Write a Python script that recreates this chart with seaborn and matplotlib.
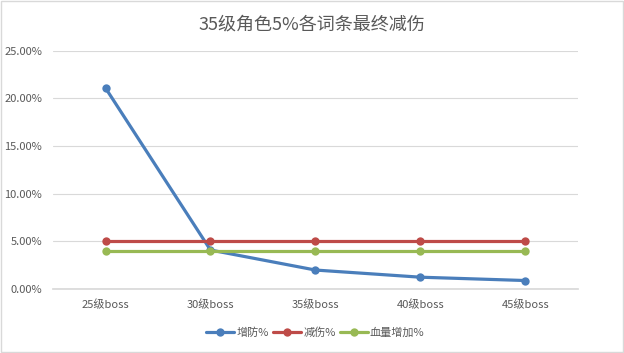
import pandas as pd
import matplotlib
matplotlib.use('Agg')
import matplotlib.pyplot as plt
import seaborn as sns
from matplotlib.ticker import PercentFormatter

levels = ['25级boss', '30级boss', '35级boss', '40级boss', '45级boss']
zengfang = [0.211, 0.041, 0.020, 0.0125, 0.009]
jianshang = [0.05, 0.05, 0.05, 0.05, 0.05]
xueliang = [0.04, 0.04, 0.04, 0.04, 0.04]
series_names = ['增防%', '减伤%', '血量增加%']
colors = ['#4A7EBB', '#BE4B48', '#98B954']

df = pd.DataFrame({
    'level': levels * 3,
    'value': zengfang + jianshang + xueliang,
    'series': [s for s in series_names for _ in levels],
})

sns.set_theme(style='white')
plt.rcParams['font.family'] = ['Noto Sans CJK SC', 'DejaVu Sans']

fig = plt.figure(figsize=(6.24, 3.53), dpi=100)
ax = fig.add_axes([0.085, 0.181, 0.841, 0.675])

sns.lineplot(data=df, x='level', y='value', hue='series', palette=colors,
             marker='o', markersize=6, markeredgewidth=0, linewidth=2.3,
             sort=False, ax=ax)

ax.set_ylim(0, 0.25)
ax.set_yticks([0, 0.05, 0.10, 0.15, 0.20, 0.25])
ax.yaxis.set_major_formatter(PercentFormatter(1.0, decimals=2))
ax.set_xlim(-0.5, 4.5)
ax.grid(axis='y', color='#D9D9D9', linewidth=0.8)
ax.set_axisbelow(True)
for s in ['top', 'right', 'left']:
    ax.spines[s].set_visible(False)
ax.spines['bottom'].set_color('#D9D9D9')
ax.tick_params(axis='both', length=0, labelsize=8, colors='#595959', pad=8)
ax.set_xlabel('')
ax.set_ylabel('')

fig.suptitle('35级角色5%各词条最终减伤', y=0.955, fontsize=13, color='#595959')

ax.legend(loc='upper center', bbox_to_anchor=(0.5, -0.12), ncol=3, frameon=False,
          fontsize=8, labelcolor='#595959', handlelength=2.5, handletextpad=0.2,
          columnspacing=0.4)

fig.patches.append(plt.Rectangle((0.001, 0.002), 0.997, 0.995, transform=fig.transFigure,
                                 fill=False, edgecolor='#D9D9D9', linewidth=1))

plt.savefig('out.png', dpi=100)
